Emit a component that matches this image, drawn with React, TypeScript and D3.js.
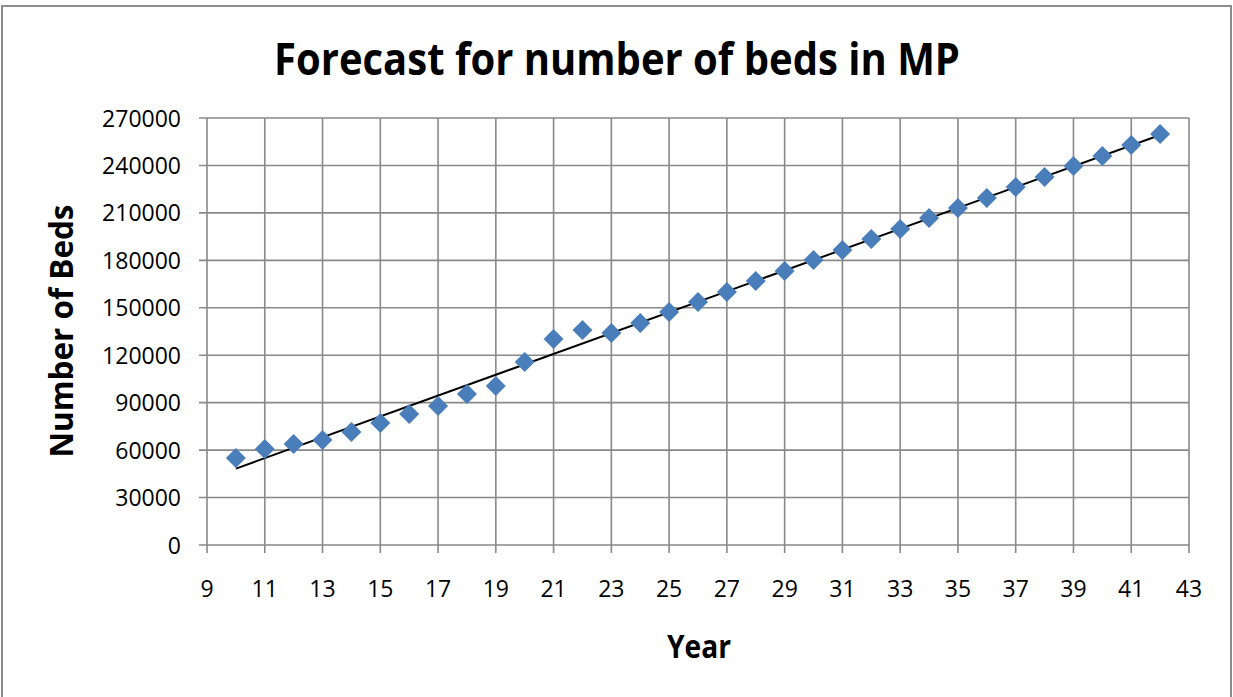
import { useEffect, useRef } from 'react';
import * as d3 from 'd3';

// Forecast for number of beds in MP - scatter with a linear trendline

const years = [10, 11, 12, 13, 14, 15, 16, 17, 18, 19, 20, 21, 22, 23, 24, 25, 26,
  27, 28, 29, 30, 31, 32, 33, 34, 35, 36, 37, 38, 39, 40, 41, 42];
const beds = [55000, 60700, 63900, 66400, 71500, 77100, 82800, 87900, 95500, 100500,
  115700, 130200, 135900, 134000, 140400, 147300, 153600, 160000, 166900, 173200,
  180200, 186500, 193500, 199800, 206800, 213100, 219400, 226400, 232700, 239600,
  246000, 252900, 259900];
const xTicks = d3.range(9, 44, 2);
const yTicks = d3.range(0, 270001, 30000);

const W = 1233;
const H = 697;

const App = () => {
  const svgRef = useRef<SVGSVGElement>(null);

  useEffect(() => {
    if (!svgRef.current) return;
    const svg = d3.select(svgRef.current);
    svg.selectAll('*').remove();

    const left = 207, right = 1189, top = 118, bottom = 545;
    const x = d3.scaleLinear().domain([9, 43]).range([left, right]);
    const y = d3.scaleLinear().domain([0, 270000]).range([bottom, top]);
    const grid = '#898989';
    const font = '"Open Sans", "Noto Sans", sans-serif';

    // outer frame
    svg.append('rect')
      .attr('x', 2).attr('y', 6)
      .attr('width', W - 4).attr('height', H + 10)
      .attr('fill', '#fff')
      .attr('stroke', '#8c8c8c')
      .attr('stroke-width', 2);

    // gridlines
    svg.append('g').selectAll('line')
      .data(yTicks)
      .enter().append('line')
      .attr('x1', left - 8).attr('x2', right)
      .attr('y1', d => y(d)).attr('y2', d => y(d))
      .attr('stroke', grid).attr('stroke-width', 1.6);

    svg.append('g').selectAll('line')
      .data(xTicks)
      .enter().append('line')
      .attr('x1', d => x(d)).attr('x2', d => x(d))
      .attr('y1', top).attr('y2', bottom + 8)
      .attr('stroke', grid).attr('stroke-width', 1.6);

    // tick labels
    svg.append('g').selectAll('text')
      .data(yTicks)
      .enter().append('text')
      .attr('x', 181)
      .attr('y', d => y(d) + 8.5)
      .attr('text-anchor', 'end')
      .attr('font-family', font)
      .attr('font-size', 23)
      .attr('fill', '#000')
      .text(d => String(d));

    svg.append('g').selectAll('text')
      .data(xTicks)
      .enter().append('text')
      .attr('x', d => x(d))
      .attr('y', 597)
      .attr('text-anchor', 'middle')
      .attr('font-family', font)
      .attr('font-size', 23)
      .attr('fill', '#000')
      .text(d => String(d));

    // trendline (least squares)
    const mx = d3.mean(years) as number;
    const my = d3.mean(beds) as number;
    const slope = d3.sum(years, (v, i) => (v - mx) * (beds[i] - my)) /
      d3.sum(years, v => (v - mx) * (v - mx));
    const icpt = my - slope * mx;
    const x0 = d3.min(years) as number;
    const x1 = d3.max(years) as number;
    const line = d3.line<number>()
      .x(d => x(d))
      .y(d => y(icpt + slope * d));
    svg.append('path')
      .attr('d', line([x0, x1]))
      .attr('fill', 'none')
      .attr('stroke', '#000')
      .attr('stroke-width', 2);

    // diamond markers
    const sym = d3.symbol().type(d3.symbolSquare).size(200);
    svg.append('g').selectAll('path')
      .data(years)
      .enter().append('path')
      .attr('d', sym() as string)
      .attr('transform', (d, i) => `translate(${x(d)},${y(beds[i])}) rotate(45)`)
      .attr('fill', '#4a7ebb');

    // titles
    svg.append('text')
      .attr('x', 617).attr('y', 75)
      .attr('text-anchor', 'middle')
      .attr('font-family', font)
      .attr('font-weight', 'bold')
      .attr('font-size', 45)
      .attr('textLength', 686)
      .attr('lengthAdjust', 'spacingAndGlyphs')
      .text('Forecast for number of beds in MP');

    svg.append('text')
      .attr('x', 699).attr('y', 658)
      .attr('text-anchor', 'middle')
      .attr('font-family', font)
      .attr('font-weight', 'bold')
      .attr('font-size', 32)
      .attr('textLength', 64)
      .attr('lengthAdjust', 'spacingAndGlyphs')
      .text('Year');

    svg.append('text')
      .attr('transform', 'translate(73,331) rotate(-90)')
      .attr('text-anchor', 'middle')
      .attr('font-family', font)
      .attr('font-weight', 'bold')
      .attr('font-size', 32)
      .attr('textLength', 253)
      .attr('lengthAdjust', 'spacingAndGlyphs')
      .text('Number of Beds');
  }, []);

  return (
    <svg
      ref={svgRef}
      width={W}
      height={H}
      style={{ position: 'absolute', left: 0, top: 0, background: '#fff' }}
    />
  );
};

export default App;
